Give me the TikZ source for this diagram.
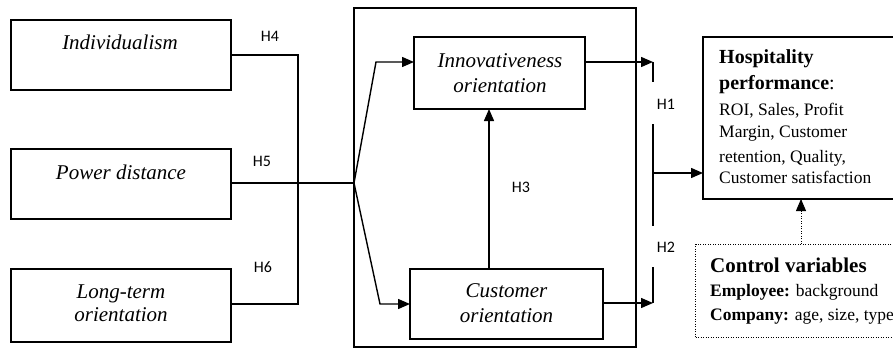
\documentclass[tikz,border=0pt]{standalone}
\usepackage{fontspec}
\setmainfont{Liberation Serif}
\newfontfamily\hfont{Carlito}
\usetikzlibrary{arrows.meta}
\begin{document}
\begin{tikzpicture}[x=1pt,y=-1pt,
  box/.style={draw, line width=1.4pt, rectangle, inner sep=0pt, outer sep=0pt, anchor=north west},
  lab/.style={font=\fontsize{21}{25}\selectfont\itshape, align=center, inner sep=0pt},
  hyp/.style={font=\hfont\fontsize{16}{18}\selectfont, inner sep=0pt},
  body/.style={font=\fontsize{17.5}{21}\selectfont, inner sep=0pt, anchor=base west},
  conn/.style={line width=1.4pt},
  arr/.style={line width=1.4pt, -{Triangle[length=12pt,width=10pt]}},
  dotline/.style={line width=0.9pt, dash pattern=on 1pt off 1.5pt},
]
\useasboundingbox (0,0) rectangle (893,350);
\clip (0,0) rectangle (893,350);

% left boxes
\node[box, minimum width=220pt, minimum height=70pt] (ind) at (11,20) {};
\node[box, minimum width=220pt, minimum height=70pt] (pd) at (11,149) {};
\node[box, minimum width=220pt, minimum height=73pt] (lt) at (11,269) {};
\node[lab] (tind) at (120,42) {Individualism};
\node[lab] (tpd) at (121,172) {Power distance};
\node[lab, font=\fontsize{21}{23}\selectfont\itshape] (tlt) at (121,303.5) {Long-term\\orientation};

% big frame
\node[box, minimum width=282pt, minimum height=339pt] (frame) at (354,8) {};

% inner boxes
\node[box, minimum width=171pt, minimum height=72pt] (inn) at (414,37) {};
\node[box, minimum width=193pt, minimum height=70pt] (cus) at (410,269) {};
\node[lab] (tinn) at (500,73) {Innovativeness\\orientation};
\node[lab] (tcus) at (506.5,303) {Customer\\orientation};

% right boxes
\node[box, minimum width=210pt, minimum height=162pt] (hosp) at (703,37) {};
\node[box, dotline, minimum width=215pt, minimum height=93pt] (ctrl) at (695.5,244) {};

\node[body, font=\fontsize{20}{24}\selectfont\bfseries] (h1t) at (719,64) {Hospitality};
\node[body] (h2t) at (719,90) {\fontsize{20}{24}\selectfont\textbf{performance}:};
\node[body] (h3t) at (719,115) {ROI, Sales, Profit};
\node[body] (h4t) at (719,137) {Margin, Customer};
\node[body] (h5t) at (719,162) {retention, Quality,};
\node[body] (h6t) at (719,183) {Customer satisfaction};

\node[body, font=\fontsize{21}{25}\selectfont\bfseries] (c1t) at (710,272) {Control variables};
\node[body] (c2t) at (710,296) {\textbf{Employee:} background};
\node[body] (c3t) at (710,320) {\textbf{Company:} age, size, type};

% hypothesis labels
\node[hyp] (H4) at (270,36) {H4};
\node[hyp] (H5) at (262,161) {H5};
\node[hyp] (H6) at (263,267) {H6};
\node[hyp] (H3) at (521,187) {H3};
\node[hyp] (H1) at (666,104) {H1};
\node[hyp] (H2) at (666,247) {H2};

% coordinates
\coordinate (j) at (354,183);
\coordinate (bu) at (376,62);
\coordinate (bd) at (380,304);
\coordinate (va) at (653,62);
\coordinate (vb) at (653,82);
\coordinate (vc) at (653,124);
\coordinate (vd) at (653,226);
\coordinate (ve) at (653,267);
\coordinate (vf) at (653,303);
\coordinate (vm) at (653,173);

% connectors from cultural dimensions
\draw[conn] (ind.east) -| (298,304) -- (lt.east |- 0,304);
\draw[conn] (pd.east |- j) -- (j);
\draw[arr] (j) -- (bu) -- (inn.west |- bu);
\draw[arr] (j) -- (bd) -- (cus.west |- bd);

% H3
\draw[arr] (cus.north -| 489,0) -- (inn.south -| 489,0);

% H1 / H2
\draw[arr] (inn.east |- va) -- (va);
\draw[arr] (cus.east |- vf) -- (vf);
\draw[conn] (va) -- (vb);
\draw[conn] (vc) -- (vd);
\draw[conn] (ve) -- (vf);
\draw[arr] (vm) -- (hosp.west |- vm);

% control
\draw[dotline, -{Triangle[length=12pt,width=10pt]}] (ctrl.north -| 801,0) -- (hosp.south -| 801,0);
\end{tikzpicture}
\end{document}
